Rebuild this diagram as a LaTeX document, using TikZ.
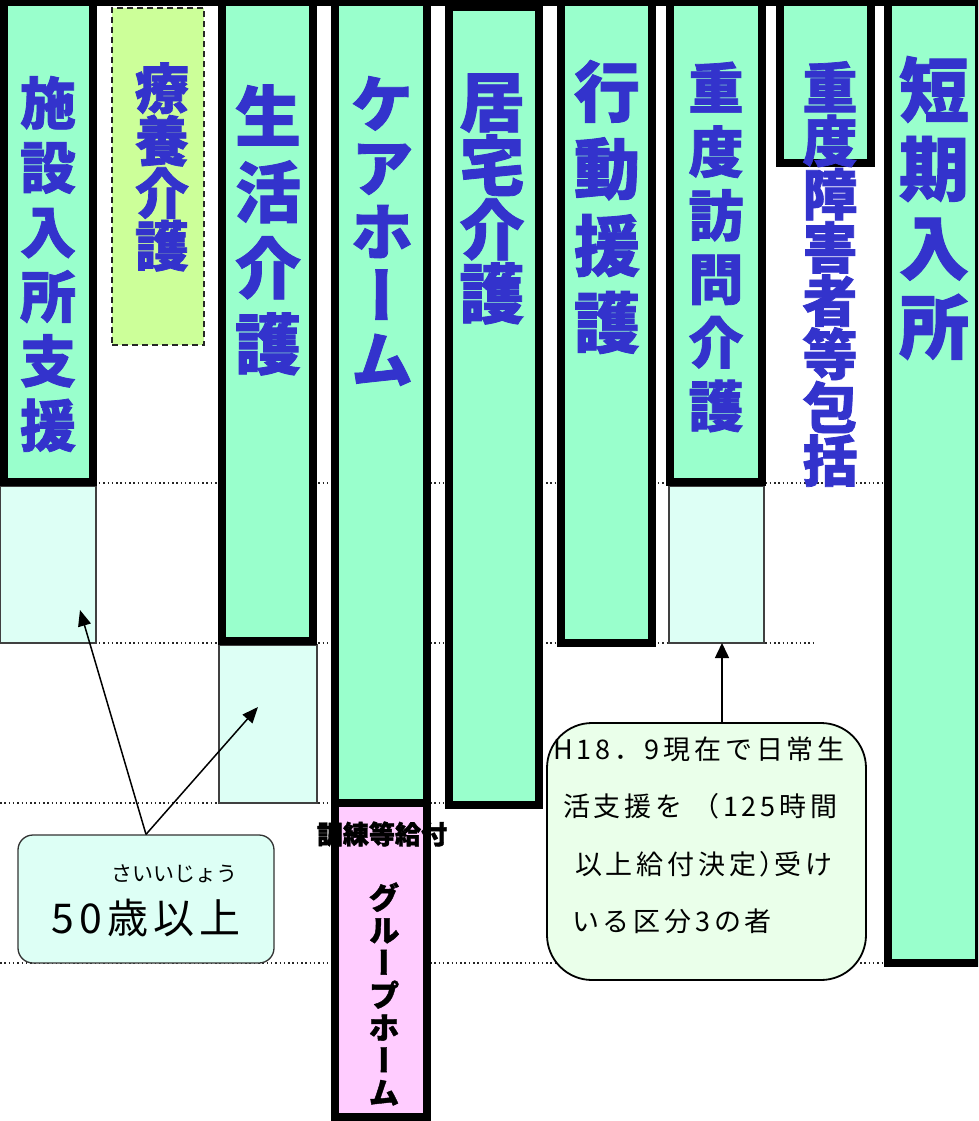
\documentclass[tikz,border=0pt]{standalone}
\usepackage{fontspec}
\setmainfont{Noto Sans CJK JP}[BoldFeatures={FakeBold=1.5}]
\newfontfamily\jpv{Noto Sans CJK JP}[RawFeature=+vert, BoldFeatures={FakeBold=1.3}]
\newfontfamily\jpls{Noto Sans CJK JP}[LetterSpace=14]
\newfontfamily\jplt{Noto Sans CJK JP}[LetterSpace=12]
\usetikzlibrary{arrows.meta,fit}
\definecolor{barg}{HTML}{99FFCC}
\definecolor{yelg}{HTML}{CCFF99}
\definecolor{extc}{HTML}{DDFFF5}
\definecolor{pinkc}{HTML}{FFCCFF}
\definecolor{lblue}{HTML}{3333CC}
\definecolor{callg}{HTML}{EAFFEA}
\tikzset{
  bar/.style={draw=black, line width=8pt, fill=barg, inner sep=0pt, outer sep=0pt},
  extbox/.style={draw=black!75, line width=1.3pt, fill=extc, inner sep=0pt, outer sep=0pt},
  dotline/.style={black!85, line width=1.4pt, dash pattern=on 1.5pt off 2.8pt},
  lbl/.style={text=lblue, align=center, inner sep=0pt},
  arr/.style={line width=1.5pt, -{Triangle[length=16pt,width=13pt]}},
  arrb/.style={line width=1.5pt, -{Triangle[length=15pt,width=14pt]}},
}
\begin{document}
\begin{tikzpicture}[x=1pt,y=-1pt]
\useasboundingbox (0,0) rectangle (978,1121);
\clip (0,0) rectangle (978,1121);
\fill[white] (0,0) rectangle (978,1121);
% dotted guide lines
\draw[dotline] (0,483) -- (885,483);
\draw[dotline] (0,643) -- (816,643);
\draw[dotline] (0,803) -- (545,803);
\draw[dotline] (0,963) -- (885,963);
% light extension boxes
\node[extbox, fit={(0.6,486) (96,643)}] (e1) {};
\node[extbox, fit={(219,645) (317,803)}] (e3) {};
\node[extbox, fit={(669,486) (764,643)}] (e7) {};
% dashed box
\node[draw=black!85, line width=1.5pt, dash pattern=on 6pt off 4pt, fill=yelg, inner sep=0pt, fit={(112,8) (204,345)}] (b2) {};
% bars
\node[bar, fit={(4,-20) (93,482)}] (b1) {};
\node[bar, fit={(222,-20) (313,641)}] (b3) {};
\node[bar, fit={(335,-20) (427,803)}] (b4) {};
\node[bar, fit={(449,7) (539,805)}] (b5) {};
\node[bar, fit={(561,-20) (652,643)}] (b6) {};
\node[bar, fit={(670,-20) (762,482)}] (b7) {};
\node[bar, fit={(780,-20) (871,163)}] (b8) {};
\node[bar, fit={(888,-20) (979,963)}] (b9) {};
% pink group home box
\node[fill=pinkc, inner sep=0pt, outer sep=0pt, fit={(335,803) (427,1117)}] (p4) {};
\node[inner sep=0pt, font=\bfseries\fontsize{26}{26}\selectfont] (kt) at (382,834) {訓練等給付};
\draw[line width=8pt] (p4.north west) rectangle (p4.south east);
\node[align=center, inner sep=0pt, font=\jpv\bfseries\fontsize{31}{32.5}\selectfont] (gh) at (384,994) {グ\\ル\\ー\\プ\\ホ\\ー\\ム};
% labels
\node[lbl, font=\jpv\bfseries\fontsize{56}{64.5}\selectfont] (l1) at (48,264) {施\\設\\入\\所\\支\\援};
\node[lbl, font=\jpv\bfseries\fontsize{54}{52.5}\selectfont] (l2) at (162,167) {療\\養\\介\\護};
\node[lbl, font=\jpv\bfseries\fontsize{66}{76}\selectfont] (l3) at (268,230) {生\\活\\介\\護};
\node[lbl, font=\jpv\bfseries\fontsize{63}{64}\selectfont] (l4) at (382,231) {ケ\\ア\\ホ\\ー\\ム};
\node[lbl, font=\jpv\bfseries\fontsize{65}{64}\selectfont] (l5) at (492,199) {居\\宅\\介\\護};
\node[lbl, font=\jpv\bfseries\fontsize{66}{77}\selectfont] (l6) at (607,207) {行\\動\\援\\護};
\node[lbl, font=\jpv\bfseries\fontsize{55}{63.6}\selectfont] (l7) at (716,247) {重\\度\\訪\\問\\介\\護};
\node[lbl, font=\jpv\bfseries\fontsize{55}{53.3}\selectfont] (l8) at (830,274) {重\\度\\障\\害\\者\\等\\包\\括};
\node[lbl, font=\jpv\bfseries\fontsize{70}{79}\selectfont] (l9) at (934,208) {短\\期\\入\\所};
% callout 1
\node[draw=black!80, line width=1.3pt, fill=extc, rounded corners=15pt, inner sep=0pt, fit={(18,835) (274,963)}] (c1) {};
\node[inner sep=0pt, font=\fontsize{21}{21}\selectfont] (ruby) at (174,874) {さいいじょう};
\node[inner sep=0pt, font=\jplt\fontsize{41}{41}\selectfont] (age) at (146,918) {50歳以上};
\coordinate (t1) at (80,610);
\coordinate (t3) at (258,707);
\draw[arr] (c1.north) -- (t1);
\draw[arr] (c1.north) -- (t3);
% callout 2
\node[draw=black, line width=1.8pt, fill=callg, rounded corners=45pt, inner sep=0pt, fit={(547,723) (866,980)}] (c2) {};
\node[anchor=base west, inner sep=0pt, font=\jpls\fontsize{27}{27}\selectfont] (q1) at (553,759) {H18．9現在で日常生};
\node[anchor=base west, inner sep=0pt, font=\jpls\fontsize{27}{27}\selectfont] (q2) at (563,816) {活支援を （125時間};
\node[anchor=base west, inner sep=0pt, font=\jpls\fontsize{27}{27}\selectfont] (q3) at (575,874) {以上給付決定）\kern-12pt受け};
\node[anchor=base west, inner sep=0pt, font=\jpls\fontsize{27}{27}\selectfont] (q4) at (572,931) {いる区分3の者};
\coordinate (s7) at (722,723);
\draw[arrb] (s7) -- (s7 |- e7.south);
% top band
\fill[black] (0,-5) rectangle (978,6.5);
\end{tikzpicture}
\end{document}
